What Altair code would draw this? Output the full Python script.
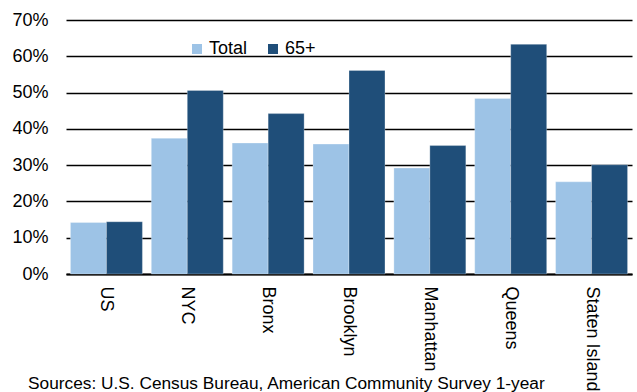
import altair as alt
import pandas as pd

categories = ["US", "NYC", "Bronx", "Brooklyn", "Manhattan", "Queens", "Staten Island"]
total = [14.2, 37.4, 36.1, 35.8, 29.2, 48.4, 25.4]
age65 = [14.4, 50.6, 44.2, 56.1, 35.4, 63.3, 30.1]
series = ["Total", "65+"]
source_text = "Sources: U.S. Census Bureau, American Community Survey 1-year"

rows = []
for c, t, a in zip(categories, total, age65):
    rows.append({"cat": c, "series": "Total", "value": t / 100})
    rows.append({"cat": c, "series": "65+", "value": a / 100})
df = pd.DataFrame(rows)

FONT = "Liberation Sans"
W, H = 566, 254

bars = alt.Chart(df).mark_bar(stroke="#ffffff", strokeOpacity=0.35, strokeWidth=0.8).encode(
    x=alt.X("cat:N", sort=categories, title=None,
            scale=alt.Scale(paddingInner=0.11, paddingOuter=0.055),
            axis=alt.Axis(labelAngle=90, labelAlign="left", labelBaseline="middle",
                          labelPadding=12, ticks=False, domain=True, domainColor="#000000",
                          domainWidth=2, labelFontSize=18, labelColor="#000000",
                          labelFont=FONT, grid=False, labelOverlap=False)),
    xOffset=alt.XOffset("series:N", sort=series, scale=alt.Scale(paddingInner=0, paddingOuter=0)),
    y=alt.Y("value:Q", title=None,
            scale=alt.Scale(domain=[0, 0.7], nice=False),
            axis=alt.Axis(format=".0%", values=[0, 0.1, 0.2, 0.3, 0.4, 0.5, 0.6, 0.7],
                          grid=True, gridColor="#000000", gridWidth=1.6, domain=False,
                          ticks=False, labelPadding=18, labelFontSize=18,
                          labelColor="#000000", labelFont=FONT)),
    color=alt.Color("series:N", sort=series,
                    scale=alt.Scale(domain=series, range=["#9dc3e6", "#1f4e79"]),
                    legend=alt.Legend(title=None, orient="none", legendX=122, legendY=20,
                                      direction="horizontal", symbolType="square",
                                      symbolSize=100, symbolStrokeWidth=0,
                                      labelFontSize=18, labelFont=FONT, labelColor="#000000",
                                      labelOffset=3, columnPadding=16)),
)

caption = alt.Chart(pd.DataFrame({"t": [source_text]})).mark_text(
    align="left", baseline="alphabetic", fontSize=17.3, font=FONT, color="#000000"
).encode(text="t:N", x=alt.value(-38), y=alt.value(H + 115))

chart = alt.layer(bars, caption).properties(
    width=W, height=H,
    autosize=alt.AutoSizeParams(type="none"),
    padding={"left": 66, "top": 20, "right": 5, "bottom": 118},
).configure_view(stroke=None).configure_axis(gridCap="butt")

chart.save("out.html", embed_options={"renderer": "svg", "actions": False})
